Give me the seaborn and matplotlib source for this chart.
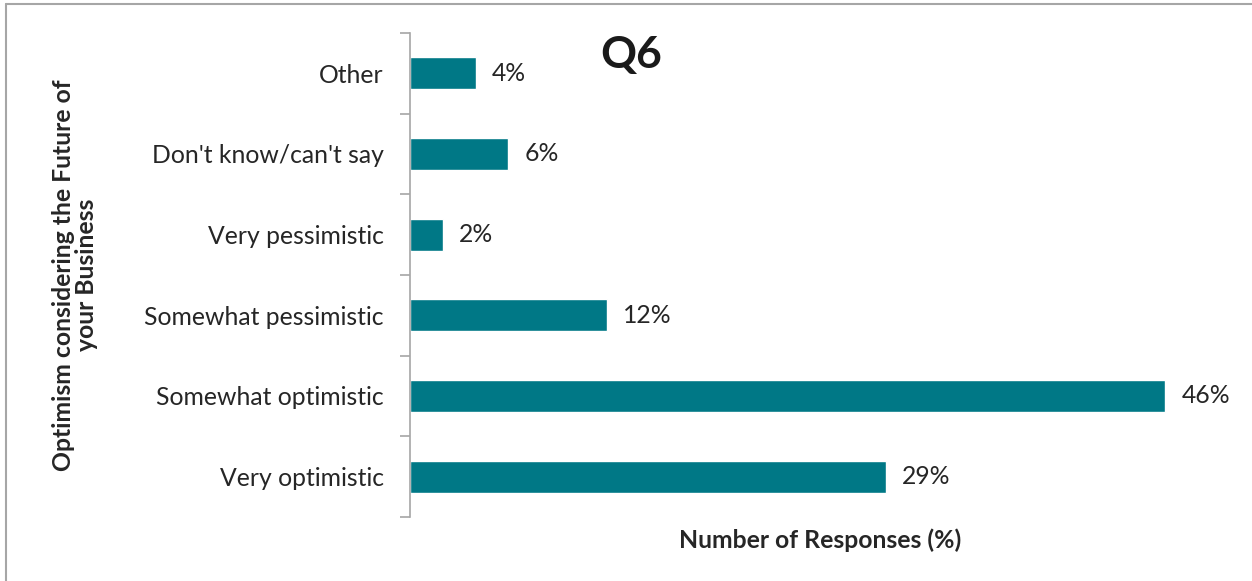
import matplotlib
matplotlib.use("Agg")
import matplotlib.pyplot as plt
from matplotlib.lines import Line2D
import seaborn as sns
import pandas as pd

categories = ["Other", "Don't know/can't say", "Very pessimistic",
              "Somewhat pessimistic", "Somewhat optimistic", "Very optimistic"]
values = [4, 6, 2, 12, 46, 29]
value_labels = ["4%", "6%", "2%", "12%", "46%", "29%"]

sns.set_theme(style="white")
plt.rcParams["font.family"] = ["Lato", "DejaVu Sans"]

df = pd.DataFrame({"category": categories, "value": values})

fig = plt.figure(figsize=(12.52, 5.81), dpi=100)
ax = fig.add_axes([0.3275, 0.1102, 0.6554, 0.8330])

bar_color = "#007886"
sns.barplot(data=df, x="value", y="category", orient="h", color=bar_color,
            width=0.4, saturation=1, ax=ax)

fs = 17.8
ax.set_xlim(0, 50)
ax.set_ylim(len(categories) - 0.5, -0.5)
ax.set_xticks([])
ax.set_yticks([i + 0.5 for i in range(-1, len(categories))], minor=True)
ax.set_yticks(range(len(categories)))
ax.set_yticklabels(categories, fontsize=fs, color="#262626")
ax.tick_params(axis="y", which="major", length=0, pad=19)
ax.tick_params(axis="y", which="minor", length=7, width=1.2, color="#A6A6A6",
               direction="out", left=True)

for s in ["top", "right", "bottom"]:
    ax.spines[s].set_visible(False)
ax.spines["left"].set_color("#A6A6A6")
ax.spines["left"].set_linewidth(1.2)

for i, (v, lab) in enumerate(zip(values, value_labels)):
    ax.text(v + 1.0, i, lab, va="center", ha="left", fontsize=fs, color="#262626")

ax.set_xlabel("Number of Responses (%)", fontsize=fs, fontweight="bold",
              color="#262626", labelpad=8)
ax.set_ylabel("")

fig.text(0.0599, 0.527, "Optimism considering the Future of\nyour Business",
         rotation=90, ha="center", va="center", fontsize=fs, fontweight="bold",
         color="#262626", linespacing=1.05, multialignment="center")

fig.text(0.504, 0.905, "Q6", ha="center", va="center", fontsize=32,
         fontweight="bold", color="#1a1a1a")

# outer frame: top and left edges
fig.add_artist(Line2D([0.0045, 1.0], [0.9935, 0.9935], transform=fig.transFigure,
                      color="#A6A6A6", lw=1.5))
fig.add_artist(Line2D([0.0045, 0.0045], [0.0, 0.9935], transform=fig.transFigure,
                      color="#A6A6A6", lw=1.5))

fig.savefig("out.png", dpi=100, facecolor="white")
